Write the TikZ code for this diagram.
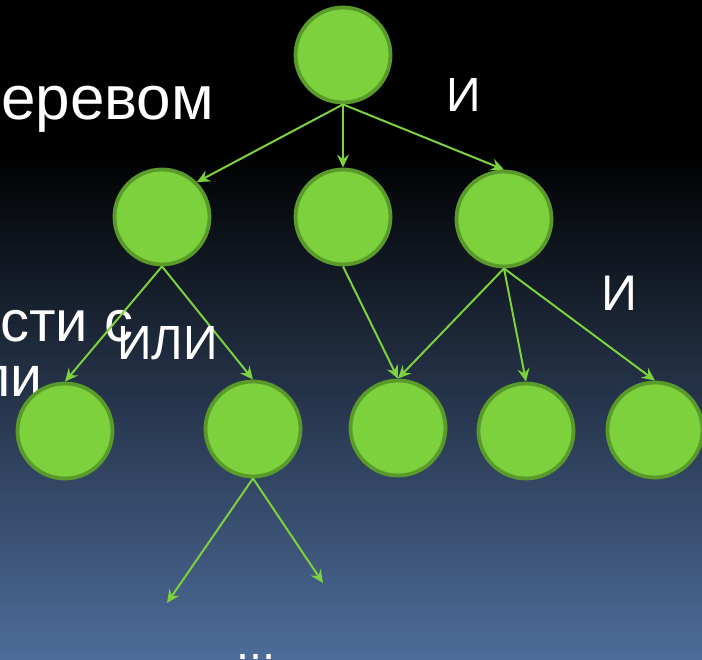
\documentclass[tikz,border=0pt]{standalone}
\usepackage{fontspec}
\setmainfont{Liberation Sans}
\usetikzlibrary{arrows.meta}
\definecolor{leaf}{HTML}{7DD13C}
\definecolor{leafedge}{HTML}{5A9A2A}
\definecolor{slidebot}{HTML}{4E6C9A}
\begin{document}
\begin{tikzpicture}[x=1pt,y=-1pt,
    vert/.style={circle,draw=leafedge,line width=3.8pt,fill=leaf,minimum size=95pt,inner sep=0pt},
    edge/.style={draw=leaf,line width=2pt,-{Stealth[length=13pt,width=12pt,inset=4.5pt]}},
    txt/.style={text=white,inner sep=0pt}]
\useasboundingbox (0,0) rectangle (702,660);
\clip (0,0) rectangle (702,660);
% slide background
\fill[black] (0,0) rectangle (702,151);
\shade[top color=black,bottom color=slidebot] (0,150) rectangle (702,660);
% body text behind the tree
\node[txt,anchor=base west,font=\fontsize{62}{62}\selectfont] (t1) at (1,120) {еревом};
\node[txt,anchor=base west,font=\fontsize{58}{58}\selectfont] (t2) at (0,342) {сти с};
\node[txt,anchor=base east,font=\fontsize{57}{57}\selectfont] (t3) at (43,397) {ли};
% the tree
\node[vert] (root) at (343,55) {};
\node[vert] (l) at (162,217) {};
\node[vert] (m) at (343,217) {};
\node[vert] (r) at (504,219) {};
\node[vert] (a) at (65,431) {};
\node[vert] (b) at (253,429) {};
\node[vert] (c) at (398,428) {};
\node[vert] (d) at (526,431) {};
\node[vert] (e) at (655,430) {};
\coordinate (bl) at (167,603);
\coordinate (br) at (323,583);
\draw[edge] (root.south) -- (l.north east);
\draw[edge] (root.south) -- (m.north);
\draw[edge] (root.south) -- (r.north);
\draw[edge] (l.south) -- (a.north);
\draw[edge] (l.south) -- (b.north);
\draw[edge] (m.south) -- (c.north);
\draw[edge] (r.south) -- (c.north);
\draw[edge] (r.south) -- (d.north);
\draw[edge] (r.south) -- (e.north);
\draw[edge] (b.south) -- (bl);
\draw[edge] (b.south) -- (br);
% labels
\node[txt,anchor=base west,font=\fontsize{48}{48}\selectfont] (and1) at (446,112) {И};
\node[txt,anchor=base west,font=\fontsize{48}{48}\selectfont] (or1) at (117,360) {ИЛИ};
\node[txt,anchor=base west,font=\fontsize{50}{50}\selectfont] (and2) at (601,311) {И};
\node[txt,anchor=base west,font=\fontsize{47}{47}\selectfont] (more) at (236,659) {...};
\end{tikzpicture}
\end{document}
